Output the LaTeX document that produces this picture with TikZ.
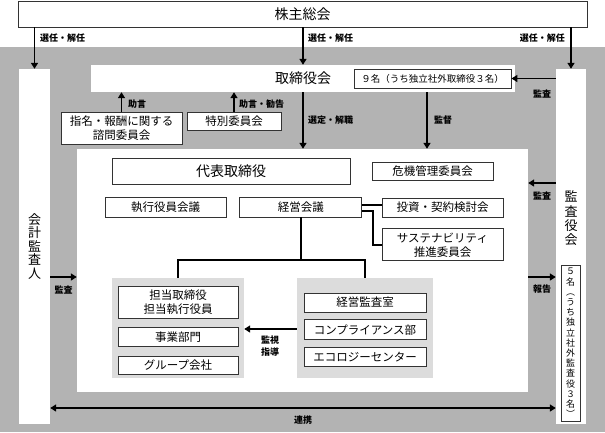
\documentclass[tikz,border=0pt]{standalone}
\usepackage{fontspec}
\setmainfont{Noto Sans CJK JP}
\usetikzlibrary{arrows.meta,positioning}
\definecolor{bggray}{HTML}{B3B3B3}
\definecolor{grpgray}{HTML}{DCDCDC}
\definecolor{boxline}{HTML}{333333}

\begin{document}
\begin{tikzpicture}[
    x=1pt, y=-1pt,
    box/.style={rectangle, draw=boxline, line width=0.8pt, fill=white, inner sep=0pt, align=center, font=\fontsize{11.5}{14}\selectfont},
    panel/.style={rectangle, fill=white, inner sep=0pt, align=center},
    grp/.style={rectangle, fill=grpgray, inner sep=0pt},
    lbl/.style={inner sep=0pt, align=center, font=\fontsize{9}{12.5}\selectfont\bfseries},
    arr/.style={-{Triangle[length=6pt,width=7pt]}, line width=1.8pt},
    link/.style={line width=1.8pt}
]
% page and gray background
\useasboundingbox (0,0) rectangle (605,432);
\fill[white] (0,0) rectangle (605,47);
\fill[bggray] (0,47) rectangle (605,432);

% top level
\node[box, minimum width=569pt, minimum height=26pt, font=\fontsize{14}{16}\selectfont] (AGM) at (302.5,14) {株主総会};
\node[panel, minimum width=424pt, minimum height=27pt, font=\fontsize{14}{16}\selectfont] (BOD) at (303,78.5) {取締役会};
\node[box, minimum width=157pt, minimum height=19pt, font=\fontsize{9.5}{11}\selectfont] (BODN) at (432.5,78.5) {９名（うち独立社外取締役３名）};

% side columns
\node[panel, minimum width=31pt, minimum height=355pt, font=\fontsize{13}{13.5}\selectfont] (ACC) at (34.5,246.5) {会\\計\\監\\査\\人};
\node[panel, minimum width=30pt, minimum height=355pt] (KAN) at (571,246.5) {};
\node[inner sep=0pt, align=center, font=\fontsize{13}{14.3}\selectfont] (KANT) at (571,218.5) {監\\査\\役\\会};
\node[box, minimum width=19pt, minimum height=156pt, font=\fontsize{9}{10.2}\selectfont] (KANN) at (570.5,343) {５\\名\\︵\\う\\ち\\独\\立\\社\\外\\監\\査\\役\\３\\名\\︶};

% committees under the board
\node[box, minimum width=121pt, minimum height=32pt] (NOM) at (121.5,128) {指名・報酬に関する\\諮問委員会};
\node[box, minimum width=94pt, minimum height=18pt] (SPC) at (234,121) {特別委員会};

% executive area
\node[panel, minimum width=451pt, minimum height=243pt] (EXE) at (302.5,270.5) {};
\node[box, minimum width=238pt, minimum height=26pt, font=\fontsize{14}{16}\selectfont] (CEO) at (231,171) {代表取締役};
\node[box, minimum width=121pt, minimum height=18pt] (RSK) at (432.5,171) {危機管理委員会};
\node[box, minimum width=121pt, minimum height=20pt] (EXM) at (165.5,207) {執行役員会議};
\node[box, minimum width=122pt, minimum height=20pt, right=13pt of EXM] (MGM) {経営会議};
\node[box, minimum width=121pt, minimum height=19pt] (INV) at (442.5,207.5) {投資・契約検討会};
\node[box, minimum width=121pt, minimum height=32pt, below=11pt of INV] (SUS) {サステナビリティ\\推進委員会};

% operating groups
\node[grp, minimum width=132pt, minimum height=100pt] (LG) at (178,328) {};
\node[grp, minimum width=136pt, minimum height=100pt] (RG) at (365,328) {};
\node[box, minimum width=120pt, minimum height=32pt] (OFC) at (178,302) {担当取締役\\担当執行役員};
\node[box, minimum width=120pt, minimum height=19pt, below=9pt of OFC] (DIV) {事業部門};
\node[box, minimum width=120pt, minimum height=18pt, below=9pt of DIV] (GRP) {グループ会社};
\node[box, minimum width=122pt, minimum height=19pt] (AUD) at (365,302.5) {経営監査室};
\node[box, minimum width=122pt, minimum height=20pt, below=7pt of AUD] (CMP) {コンプライアンス部};
\node[box, minimum width=122pt, minimum height=19pt, below=7pt of CMP] (ECO) {エコロジーセンター};

% arrows
\coordinate (SUPV) at (427,92);
\draw[arr] (ACC.north |- AGM.south) -- (ACC.north);
\draw[arr] (BOD.north |- AGM.south) -- (BOD.north);
\draw[arr] (KAN.north |- AGM.south) -- (KAN.north);
\draw[arr] (KAN.west |- BODN.east) -- (BODN.east);
\draw[arr] (NOM.north) -- (NOM.north |- BOD.south);
\draw[arr] (SPC.north) -- (SPC.north |- BOD.south);
\draw[arr] (BOD.south) -- (BOD.south |- EXE.north);
\draw[arr] (SUPV) -- (SUPV |- EXE.north);
\draw[arr] (KAN.west |- 0,183) -- (EXE.east |- 0,183);
\draw[arr] (ACC.east |- 0,277) -- (EXE.west |- 0,277);
\draw[arr] (EXE.east |- 0,277) -- (KAN.west |- 0,277);
\draw[arr] (RG.west |- 0,329) -- (LG.east |- 0,329);
\draw[arr, {Triangle[length=6pt,width=7pt]}-{Triangle[length=6pt,width=7pt]}] (ACC.east |- 0,408) -- (KAN.west |- 0,408);

% tree from management meeting
\coordinate (M1) at ([yshift=2pt]MGM.east);
\coordinate (M2) at ([yshift=-4pt]MGM.east);
\draw[link] (MGM.south) -- (MGM.south |- 0,260);
\draw[link] (LG.north) |- (0,260 -| RG.north) -- (RG.north);
\draw[link] (M1) -- (M1 -| INV.west);
\draw[link] (M2) -- ++(11,0) |- (SUS.west);

% labels
\node[lbl, anchor=west] (L1) at (40,38) {選任・解任};
\node[lbl, anchor=west] (L2) at (308,38) {選任・解任};
\node[lbl, anchor=east] (L3) at (565,38) {選任・解任};
\node[lbl, anchor=west] (L4) at (128,104) {助言};
\node[lbl, anchor=west] (L5) at (239,104) {助言・勧告};
\node[lbl, anchor=west] (L6) at (308,120) {選定・解職};
\node[lbl, anchor=west] (L7) at (434,120) {監督};
\node[lbl] (L8) at (542,94) {監査};
\node[lbl] (L9) at (542,196) {監査};
\node[lbl] (L10) at (63.5,290) {監査};
\node[lbl] (L11) at (542,289) {報告};
\node[lbl] (L12) at (270,346) {監視\\指導};
\node[lbl] (L13) at (303,420) {連携};
\end{tikzpicture}
\end{document}
